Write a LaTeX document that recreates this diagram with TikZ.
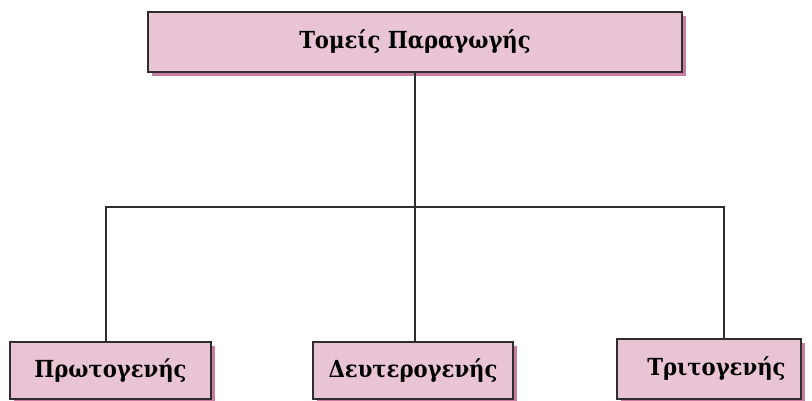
\documentclass[tikz,border=0pt]{standalone}
\usepackage{fontspec}
\setmainfont{DejaVu Serif Condensed}
\definecolor{boxfill}{HTML}{E8C4D4}
\definecolor{boxshadow}{HTML}{C97DA1}
\definecolor{boxline}{HTML}{2E2E2E}
\begin{document}
\begin{tikzpicture}[x=1pt,y=-1pt,
  pbox/.style={draw=boxline,line width=1.3pt,fill=boxfill,inner sep=0pt,
    font=\fontsize{23.5}{28}\selectfont\bfseries},
  conn/.style={draw=boxline,line width=1.8pt}]
\useasboundingbox (0,0) rectangle (812,401);
% shadows
\fill[boxshadow] (152,16) rectangle (686,76);
\fill[boxshadow] (14,346) rectangle (215,403);
\fill[boxshadow] (317,346) rectangle (517,403);
\fill[boxshadow] (621,343) rectangle (805,403);
% boxes
\node[pbox,minimum width=534pt,minimum height=60pt] (top) at (415,42) {Τομείς Παραγωγής};
\node[pbox,minimum width=201pt,minimum height=57pt] (p) at (110.5,370.5) {Πρωτογενής};
\node[pbox,minimum width=200pt,minimum height=57pt] (d) at (413,370.5) {Δευτερογενής};
\node[pbox,minimum width=184pt,minimum height=60pt] (t) at (709,369) {\hspace{15pt}Τριτογενής};
% connectors
\coordinate (hub) at (415,207);
\draw[conn] (top.south) -- (top.south |- hub);
\draw[conn] ([xshift=-4.5pt]p.north) |- ([xshift=15pt]t.north |- hub) -- ([xshift=15pt]t.north);
\draw[conn] ([xshift=2pt]d.north) -- ([xshift=2pt]d.north |- hub);
\end{tikzpicture}
\end{document}
